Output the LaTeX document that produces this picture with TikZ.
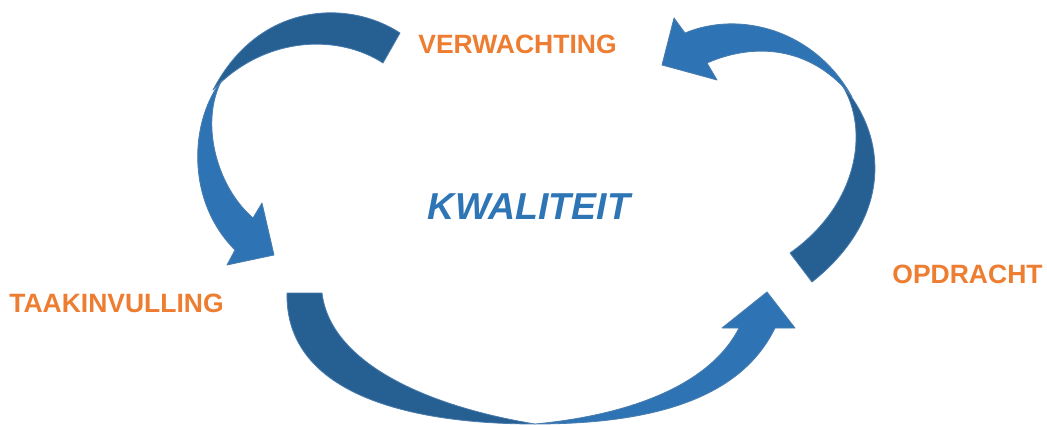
\documentclass[tikz,border=0pt]{standalone}
\usepackage{fontspec}
\setmainfont{Liberation Sans}
\definecolor{arrlight}{HTML}{2E74B5}
\definecolor{arrdark}{HTML}{265F92}
\definecolor{arredge}{HTML}{4A7DAE}
\definecolor{lblorange}{HTML}{ED7D31}
\definecolor{kwblue}{HTML}{2E75B6}
\tikzset{
  darkband/.style={fill=arrdark, draw=arredge, line width=0.8pt, line join=round},
  lightband/.style={fill=arrlight, draw=arredge, line width=0.8pt, line join=round},
  lbl/.style={text=lblorange, font=\fontsize{26.5}{31}\selectfont\bfseries, inner sep=0pt, anchor=base},
  centre/.style={text=kwblue, font=\fontsize{37.5}{44}\selectfont\bfseries\itshape, inner sep=0pt, anchor=base}
}
\begin{document}
\begin{tikzpicture}[x=1pt,y=-1pt]
\useasboundingbox (0,0) rectangle (1047,425);
% Arrow 1 (top-left)
\path[darkband] (400,33) .. controls (350,0) and (260,0) .. (213,90)
  -- (218,85) .. controls (270,35) and (340,35) .. (383,63) -- cycle;
\path[lightband] (222,80) .. controls (190,120) and (185,200) .. (235,250)
  -- (227,265) -- (274,255) -- (262,203) -- (253,218)
  .. controls (215,185) and (200,120) .. (222,80) -- cycle;
% Arrow 2 (top-right)
\path[darkband] (842,85) .. controls (890,140) and (890,220) .. (812,282)
  -- (790,253) .. controls (858,205) and (870,130) .. (842,85) -- cycle;
\path[lightband] (852,97) .. controls (815,30) and (740,10) .. (685,33)
  -- (674,18) -- (662,65) -- (717,80) -- (707,63)
  .. controls (760,40) and (815,50) .. (852,97) -- cycle;
% Arrow 3 (bottom)
\path[darkband] (287,293) .. controls (285,390) and (400,424) .. (535,424)
  .. controls (420,405) and (330,360) .. (322,293) -- cycle;
\path[lightband] (535,424) .. controls (650,424) and (740,400) .. (775,328)
  -- (795,328) -- (767,292) -- (722,328) -- (739,328)
  .. controls (710,385) and (630,415) .. (535,424) -- cycle;
% Labels
\node[lbl] (verw) at (517.5,54) {VERWACHTING};
\node[lbl] (taak) at (116.5,312) {TAAKINVULLING};
\node[lbl] (opdr) at (967.5,283) {OPDRACHT};
\node[centre] (kwal) at (529,219) {KWALITEIT};
\end{tikzpicture}
\end{document}
